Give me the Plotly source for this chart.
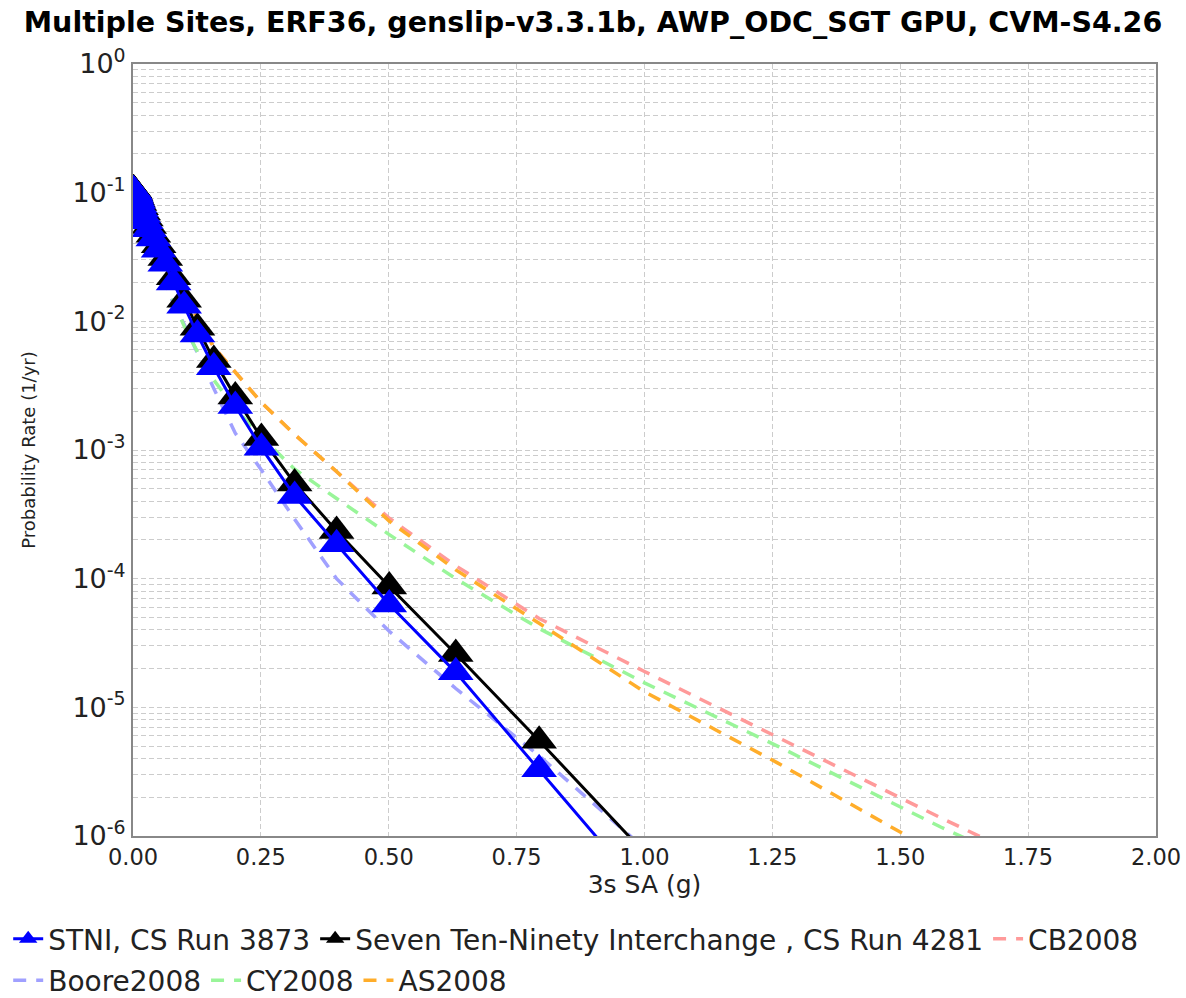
import plotly.graph_objects as go

# ---- data -----------------------------------------------------------------
iml_cs = [0.001, 0.00126, 0.00158, 0.002, 0.00251, 0.00316, 0.00398, 0.00501, 0.00631, 0.00794,
          0.01, 0.0126, 0.0158, 0.02, 0.0251, 0.0316, 0.0398, 0.0501, 0.0631, 0.0794,
          0.1, 0.126, 0.158, 0.2, 0.251, 0.316, 0.398, 0.501, 0.631, 0.794, 1.0]

stni_rate = [0.104, 0.104, 0.103, 0.103, 0.102, 0.101, 0.099, 0.097, 0.094, 0.090,
             0.086, 0.080, 0.074, 0.067, 0.060, 0.052, 0.044, 0.036, 0.028, 0.020,
             0.0132, 0.0079, 0.0044, 0.0022, 0.00104, 0.00044, 0.000185, 6.3e-5, 1.87e-5, 3.3e-6, 3.6e-7]

seven_rate = [0.106, 0.106, 0.105, 0.105, 0.104, 0.103, 0.101, 0.099, 0.096, 0.092,
              0.088, 0.083, 0.077, 0.070, 0.063, 0.055, 0.047, 0.039, 0.031, 0.022,
              0.0147, 0.0089, 0.0050, 0.0026, 0.00124, 0.00055, 0.000235, 8.7e-5, 2.6e-5, 5.5e-6, 7.4e-7]

iml_gmpe = [0.001, 0.00126, 0.00158, 0.002, 0.00251, 0.00316, 0.00398, 0.00501, 0.00631, 0.00794,
            0.01, 0.0126, 0.0158, 0.02, 0.0251, 0.0316, 0.0398, 0.0501, 0.0631, 0.0794,
            0.1, 0.126, 0.158, 0.2, 0.251, 0.316, 0.398, 0.501, 0.631, 0.794, 1.0,
            1.26, 1.58, 2.0]

cb2008 = [0.105, 0.105, 0.104, 0.104, 0.103, 0.102, 0.100, 0.098, 0.095, 0.091,
          0.087, 0.082, 0.076, 0.069, 0.062, 0.055, 0.047, 0.039, 0.031, 0.023,
          0.0166, 0.0105, 0.0063, 0.0040, 0.00234, 0.00132, 0.00068, 0.000295, 0.000126, 4.9e-5, 1.9e-5,
          5.9e-6, 1.38e-6, 2.2e-7]

boore2008 = [0.104, 0.104, 0.103, 0.103, 0.102, 0.100, 0.098, 0.095, 0.091, 0.086,
             0.080, 0.075, 0.069, 0.061, 0.053, 0.045, 0.037, 0.029, 0.021, 0.0135,
             0.0095, 0.0056, 0.0030, 0.00135, 0.00070, 0.00029, 0.00010, 3.9e-5, 1.4e-5, 4.2e-6, 8.0e-7,
             1.2e-7, 1.4e-8, 1.0e-9]

cy2008 = [0.104, 0.104, 0.103, 0.103, 0.102, 0.100, 0.098, 0.096, 0.092, 0.087,
          0.082, 0.077, 0.071, 0.063, 0.055, 0.047, 0.040, 0.033, 0.024, 0.0142,
          0.0092, 0.0058, 0.0035, 0.0021, 0.00126, 0.00071, 0.00042, 0.00022, 0.00010, 4.1e-5, 1.55e-5,
          5.0e-6, 1.17e-6, 2.0e-7]

as2008 = [0.105, 0.105, 0.104, 0.104, 0.103, 0.102, 0.100, 0.098, 0.095, 0.091,
          0.087, 0.082, 0.076, 0.069, 0.062, 0.055, 0.047, 0.039, 0.031, 0.023,
          0.0166, 0.0105, 0.0063, 0.0040, 0.00234, 0.00132, 0.00068, 0.00028, 0.000117, 4.5e-5, 1.32e-5,
          3.7e-6, 7.1e-7, 1.0e-7]

y_tickvals = [1, 0.1, 0.01, 0.001, 0.0001, 0.00001, 0.000001]
y_ticktext = ["10<sup>0</sup>", "10<sup>-1</sup>", "10<sup>-2</sup>", "10<sup>-3</sup>",
              "10<sup>-4</sup>", "10<sup>-5</sup>", "10<sup>-6</sup>"]

# ---- figure ---------------------------------------------------------------
FONT = "DejaVu Sans"
TXT = "#222222"
fig = go.Figure()

gmpes = [("CB2008", cb2008, "#ff9a9a", "legend", 3),
         ("Boore2008", boore2008, "#a0a0ff", "legend2", 4),
         ("CY2008", cy2008, "#99f599", "legend2", 5),
         ("AS2008", as2008, "#ffad2a", "legend2", 6)]
for name, vals, col, leg, rank in gmpes:
    fig.add_trace(go.Scatter(x=iml_gmpe, y=vals, mode="lines", name=name,
                             line=dict(color=col, width=3.5, dash="13px,10px"),
                             legend=leg, legendrank=rank))

fig.add_trace(go.Scatter(x=iml_cs, y=seven_rate, mode="lines+markers",
                         name="Seven Ten-Ninety Interchange , CS Run 4281",
                         line=dict(color="black", width=3),
                         marker=dict(symbol="triangle-up", size=31, color="black"),
                         legend="legend", legendrank=2))
fig.add_trace(go.Scatter(x=iml_cs, y=stni_rate, mode="lines+markers",
                         name="STNI, CS Run 3873",
                         line=dict(color="#0000ff", width=3),
                         marker=dict(symbol="triangle-up", size=31, color="#0000ff"),
                         legend="legend", legendrank=1))

grid_col = "#cccccc"
leg_common = dict(orientation="h", xanchor="left", yanchor="top",
                  font=dict(family=FONT, size=28, color=TXT),
                  itemwidth=30, tracegroupgap=0, bgcolor="rgba(0,0,0,0)", borderwidth=0)

W, H = 1186, 998
fig.update_layout(
    width=W, height=H,
    margin=dict(l=133, r=30, t=64, b=162, autoexpand=False),
    paper_bgcolor="white", plot_bgcolor="white",
    font=dict(family=FONT, color=TXT),
    title=dict(text="<b>Multiple Sites, ERF36, genslip-v3.3.1b, AWP_ODC_SGT GPU, CVM-S4.26</b>",
               x=593 / W, xanchor="center", y=1 - 22 / H, yanchor="middle",
               font=dict(family=FONT, size=28.5, color="black")),
    showlegend=True,
    legend=dict(x=-0.122, y=-0.101, **leg_common),
    legend2=dict(x=-0.122, y=-0.155, **leg_common),
    xaxis=dict(range=[0, 2.0], dtick=0.25, tick0=0, tickformat=".2f",
               showgrid=True, gridcolor=grid_col, griddash="5px,3px", gridwidth=1,
               showline=True, linecolor="#888888", linewidth=2, mirror=True,
               zeroline=False, ticks="",
               tickfont=dict(family=FONT, size=22.5, color=TXT),
               title=dict(text="3s SA (g)", font=dict(family=FONT, size=25, color=TXT),
                          standoff=6)),
    yaxis=dict(type="log", range=[-6, 0], tickvals=y_tickvals, ticktext=y_ticktext,
               showgrid=True, gridcolor=grid_col, griddash="5px,3px", gridwidth=1,
               minor=dict(dtick="D1", showgrid=True, gridcolor=grid_col, griddash="5px,3px", ticks=""),
               showline=True, linecolor="#888888", linewidth=2, mirror=True,
               zeroline=False, ticks="",
               tickfont=dict(family=FONT, size=27, color=TXT),
               title=dict(text="Probability Rate (1/yr)", font=dict(family=FONT, size=18, color=TXT),
                          standoff=32)),
)

# remove the default page margin so the figure fills the window exactly
fig.write_html("out.html",
               config={"displayModeBar": False},
               post_script="document.body.style.margin='0px';"
                           "document.documentElement.style.overflow='hidden';")
